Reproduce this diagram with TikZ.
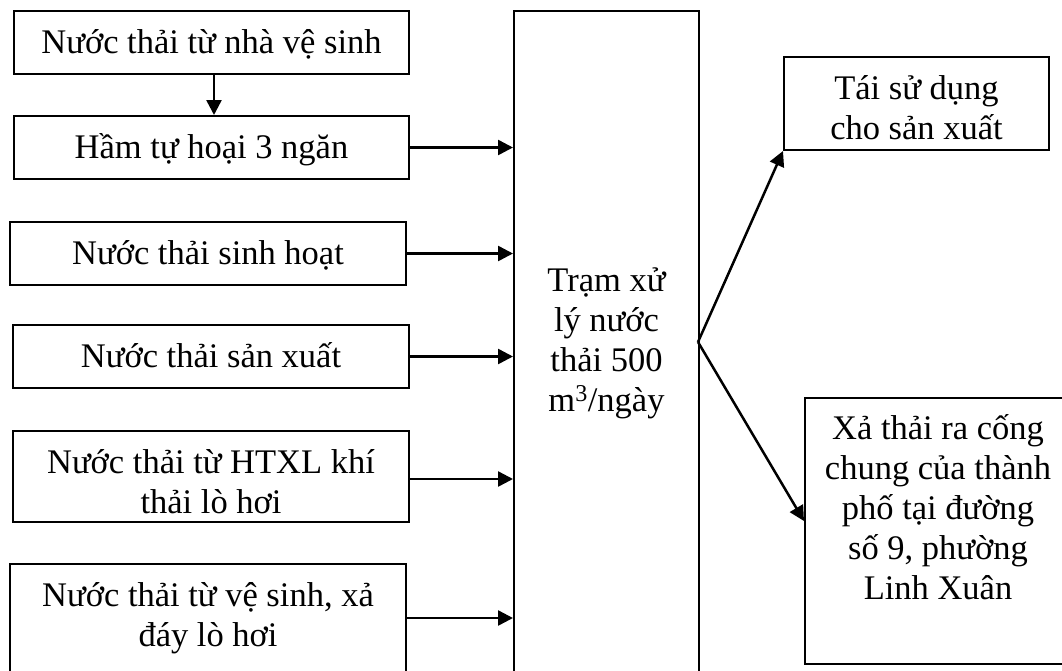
\documentclass[tikz,border=0pt]{standalone}
\usepackage{fontspec}
\setmainfont{Liberation Serif}
\usetikzlibrary{arrows.meta}
% stacked centred lines whose reference point is the first baseline
\newcommand\boxlines[1]{\begin{tabular}[t]{@{}c@{}}#1\end{tabular}}
\tikzset{
  stage/.style={draw, line width=2pt, inner sep=0pt, anchor=north west,
    font=\fontsize{34.5}{40}\selectfont, text height=42pt},
  flow/.style={line width=2.5pt, -{Triangle[length=15pt,width=15pt]}}
}
\begin{document}
\begin{tikzpicture}[x=1pt,y=-1pt]
\clip (0,0) rectangle (1062,670);
\fill[white] (0,0) rectangle (1062,670);

% sources
\node[stage, minimum width=395pt, text depth=21pt] (toilet) at (13,10) {\boxlines{Nước thải từ nhà vệ sinh}};
\node[stage, minimum width=395pt, text depth=21pt] (septic) at (13,115) {\boxlines{Hầm tự hoại 3 ngăn}};
\node[stage, minimum width=396pt, text depth=21pt] (domestic) at (9,221) {\boxlines{Nước thải sinh hoạt}};
\node[stage, minimum width=396pt, text depth=21pt] (production) at (12,324) {\boxlines{Nước thải sản xuất}};
\node[stage, minimum width=396pt, text depth=49pt] (scrubber) at (12,430) {\boxlines{Nước thải từ HTXL khí\\thải lò hơi}};
\node[stage, minimum width=396pt, text depth=66pt] (blowdown) at (9,563) {\boxlines{Nước thải từ vệ sinh, xả\\đáy lò hơi}};

% treatment plant
\node[stage, minimum width=185pt, text height=280pt, text depth=410pt] (plant) at (513,10)
  {\boxlines{Trạm xử\\lý nước\\thải 500\\m\textsuperscript{3}/ngày}};

% destinations
\node[stage, minimum width=265pt, text depth=51pt] (reuse) at (783,56) {\boxlines{Tái sử dụng\\cho sản xuất}};
\node[stage, minimum width=266pt, text height=41pt, text depth=225pt] (sewer) at (804,397)
  {\boxlines{Xả thải ra cống\\chung của thành\\phố tại đường\\số 9, phường\\Linh Xuân}};

\coordinate (split) at (698,342);

% connectors
\draw[flow] ([xshift=2.5pt]toilet.south) -- ([xshift=2.5pt]septic.north);
\draw[flow] (septic.east) -- (septic.east -| plant.west);
\draw[flow] (domestic.east) -- (domestic.east -| plant.west);
\draw[flow] (production.east) -- (production.east -| plant.west);
\draw[flow] ([yshift=-2.5pt]scrubber.east) -- ([yshift=-2.5pt]scrubber.east -| plant.west);
\draw[flow] (blowdown.east) -- (blowdown.east -| plant.west);
\draw[flow] (split) -- (reuse.south west);
\draw[flow] (split) -- ([yshift=10pt]sewer.west);
\end{tikzpicture}
\end{document}
